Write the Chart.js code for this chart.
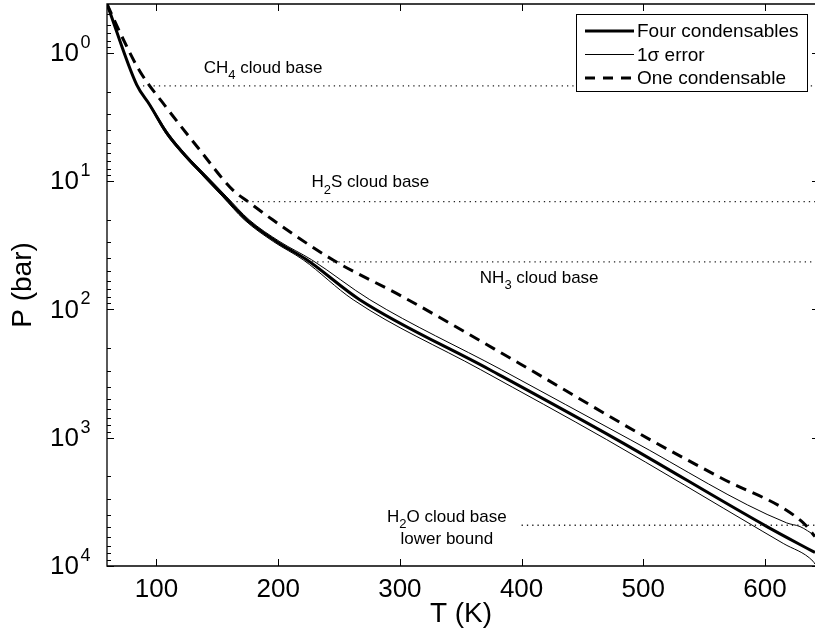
<!DOCTYPE html>
<html>
<head>
<meta charset="utf-8">
<script src="https://cdn.jsdelivr.net/npm/chart.js@4.4.1/dist/chart.umd.min.js"></script>
<style>
  html, body { margin: 0; padding: 0; background: #fff; overflow: hidden; }
  #c { display: block; }
</style>
</head>
<body>
<canvas id="c" width="815" height="636"></canvas>
<script>
// T (K) against P (bar)
const fourT = [59.35, 83.8, 94.5, 108.4, 123.2, 138.8, 156.1, 174.2, 198.8, 223.5, 267.0, 373.9, 478.3, 601.6, 641.1];
const fourP = [0.415, 1.776, 2.543, 4.20, 6.24, 8.93, 13.26, 20.03, 29.7, 41.06, 84.1, 295.7, 1038, 4950, 7893];

const lowT = [59.35, 83.8, 94.0, 107.3, 122.0, 137.3, 154.5, 172.2, 196.3, 220.5, 261.6, 366.4, 469.9, 598.3, 615.0, 639.5, 641.1];
const lowP = [0.415, 1.776, 2.543, 4.20, 6.24, 8.93, 13.26, 20.03, 29.7, 41.06, 84.1, 295.7, 1038, 5410, 6700, 9226, 9700];

const highT = [59.35, 83.8, 95.0, 109.5, 124.5, 140.3, 157.8, 176.2, 201.5, 227.5, 275.3, 383.4, 489.2, 617.8, 628.8, 641.1];
const highP = [0.415, 1.776, 2.543, 4.20, 6.24, 8.93, 13.26, 20.03, 29.7, 41.06, 84.1, 295.7, 1038, 4633, 4950, 5816];

const oneT = [59.35, 69.8, 86.2, 108.4, 135.5, 162.6, 176.6, 195.5, 244.8, 302.4, 398.6, 505.5, 563.6, 631.3, 641.1];
const oneP = [0.415, 0.686, 1.381, 2.684, 5.70, 11.69, 14.76, 20.03, 41.06, 79.8, 265.6, 1038, 2060, 4607, 5922];

// cloud bases: pressure and the temperature where the dotted line starts
const cloudP = [1.808, 14.42, 42.56, 4833];
const cloudStartT = [88.9, 165.7, 223.3, 400];

// annotation text, [text, isSubscript]
const cloudText = [
  [['CH', 0], ['4', 1], [' cloud base', 0]],
  [['H', 0], ['2', 1], ['S cloud base', 0]],
  [['NH', 0], ['3', 1], [' cloud base', 0]],
  [['H', 0], ['2', 1], ['O cloud base', 0]],
  [['lower bound', 0]]
];
const cloudTextT = [138.8, 227.4, 365.7, 338.6, 338.6];
const cloudTextP = [1.309, 10.25, 57.0, 4188, 6250];
const cloudTextAlign = ['left', 'left', 'left', 'center', 'center'];

const xTicks = [100, 200, 300, 400, 500, 600];
const yTicks = [1, 10, 100, 1000, 10000];
const tMin = 59.35, tMax = 641.1;
const pMin = 0.415, pMax = 10050;

const FONT = "'Liberation Sans', Arial, Helvetica, sans-serif";

const pts = (T, P) => T.map((t, i) => ({ x: t, y: P[i] }));

function drawRich(ctx, parts, x, y, size, align) {
  const sub = Math.round(size * 0.75);
  let w = 0;
  parts.forEach(p => {
    ctx.font = (p[1] ? sub : size) + 'px ' + FONT;
    w += ctx.measureText(p[0]).width;
  });
  let cx = align === 'center' ? x - w / 2 : x;
  ctx.textAlign = 'left';
  ctx.textBaseline = 'middle';
  parts.forEach(p => {
    ctx.font = (p[1] ? sub : size) + 'px ' + FONT;
    ctx.fillText(p[0], cx, p[1] ? y + size * 0.45 : y);
    cx += ctx.measureText(p[0]).width;
  });
}

const legendItems = [
  { text: 'Four condensables', width: 3, dash: [] },
  { text: '1\u03c3 error', width: 1, dash: [] },
  { text: 'One condensable', width: 3, dash: [10, 8] }
];

const framePlugin = {
  id: 'frame',
  afterDatasetsDraw(chart) {
    const { ctx, chartArea: a, scales: { x, y } } = chart;
    ctx.save();
    ctx.fillStyle = '#000';
    cloudText.forEach((parts, i) => {
      drawRich(ctx, parts, x.getPixelForValue(cloudTextT[i]), y.getPixelForValue(cloudTextP[i]), 17, cloudTextAlign[i]);
    });

    ctx.strokeStyle = '#000';
    ctx.lineWidth = 1.3;
    ctx.beginPath();
    ctx.moveTo(a.right + 5, a.top);
    ctx.lineTo(a.left, a.top);
    ctx.lineTo(a.left, a.bottom);
    ctx.lineTo(a.right + 5, a.bottom);
    ctx.stroke();

    ctx.lineWidth = 1;
    ctx.beginPath();
    xTicks.forEach(v => {
      const px = Math.round(x.getPixelForValue(v)) + 0.5;
      ctx.moveTo(px, a.bottom); ctx.lineTo(px, a.bottom - 7);
      ctx.moveTo(px, a.top); ctx.lineTo(px, a.top + 7);
    });
    for (let e = -1; e <= 4; e++) {
      for (let m = 1; m < 10; m++) {
        const v = m * Math.pow(10, e);
        if (v < y.min || v > y.max) continue;
        const py = Math.round(y.getPixelForValue(v)) + 0.5;
        const len = m === 1 ? 7 : 4;
        ctx.moveTo(a.left, py); ctx.lineTo(a.left + len, py);
        if (m === 1) { ctx.moveTo(a.right, py); ctx.lineTo(a.right - 3, py); }
      }
    }
    ctx.stroke();

    // legend
    const bx = 576, by = 14, bw = 231, bh = 77;
    ctx.fillStyle = '#fff';
    ctx.fillRect(bx, by, bw, bh);
    ctx.lineWidth = 1;
    ctx.strokeRect(bx + 0.5, by + 0.5, bw, bh);
    legendItems.forEach((it, i) => {
      const ly = by + 17 + i * 23.5;
      ctx.beginPath();
      ctx.lineWidth = it.width;
      ctx.setLineDash(it.dash);
      ctx.moveTo(bx + 9, ly); ctx.lineTo(bx + 58, ly);
      ctx.stroke();
      ctx.setLineDash([]);
      ctx.fillStyle = '#000';
      ctx.font = '19px ' + FONT;
      ctx.textAlign = 'left';
      ctx.textBaseline = 'middle';
      ctx.fillText(it.text, bx + 61, ly + 1);
    });
    ctx.restore();
  },
  afterDraw(chart) {
    const { ctx, scales: { y } } = chart;
    ctx.save();
    ctx.fillStyle = '#000';
    yTicks.forEach(v => {
      const py = y.getPixelForValue(v);
      ctx.font = '26px ' + FONT;
      ctx.textAlign = 'right';
      ctx.textBaseline = 'middle';
      ctx.fillText('10', 79, py + 1);
      ctx.font = '18px ' + FONT;
      ctx.textAlign = 'left';
      ctx.textBaseline = 'alphabetic';
      ctx.fillText(String(Math.round(Math.log10(v))), 80.5, py - 5);
    });
    ctx.restore();
  }
};

const cloudSets = cloudP.map((p, i) => ({
  label: 'cloud base ' + i,
  data: [{ x: cloudStartT[i], y: p }, { x: tMax, y: p }],
  borderColor: '#222',
  borderWidth: 1.3,
  borderDash: [1.3, 4],
  pointRadius: 0
}));

const curve = (label, T, P, width, dash) => ({
  label: label,
  data: pts(T, P),
  borderColor: '#000',
  borderWidth: width,
  borderDash: dash,
  cubicInterpolationMode: 'monotone',
  pointRadius: 0
});

new Chart(document.getElementById('c'), {
  type: 'line',
  data: {
    datasets: [
      ...cloudSets,
      curve('1\u03c3 error', lowT, lowP, 1, []),
      curve('1\u03c3 error', highT, highP, 1, []),
      curve('One condensable', oneT, oneP, 3, [11, 7]),
      curve('Four condensables', fourT, fourP, 3, [])
    ]
  },
  options: {
    responsive: false,
    animation: false,
    layout: { padding: { top: 4, right: 0, left: 0, bottom: 0 } },
    plugins: { legend: { display: false }, tooltip: { enabled: false } },
    elements: { line: { borderCapStyle: 'butt' } },
    scales: {
      x: {
        type: 'linear', min: tMin, max: tMax,
        grid: { display: false }, border: { display: false },
        afterBuildTicks: s => { s.ticks = xTicks.map(v => ({ value: v })); },
        afterFit: s => { s.height = 70; },
        ticks: { font: { family: FONT, size: 26 }, color: '#000', padding: 0, maxRotation: 0 },
        title: { display: true, text: 'T (K)', font: { family: FONT, size: 28 }, color: '#000', padding: { top: 0, bottom: 5 } }
      },
      y: {
        type: 'logarithmic', reverse: true, min: pMin, max: pMax,
        grid: { display: false }, border: { display: false },
        ticks: { display: false },
        afterFit: s => { s.width = 107; },
        title: { display: true, text: 'P (bar)', font: { family: FONT, size: 28 }, color: '#000', padding: { top: 6, bottom: 0 } }
      }
    }
  },
  plugins: [framePlugin]
});
</script>
</body>
</html>
